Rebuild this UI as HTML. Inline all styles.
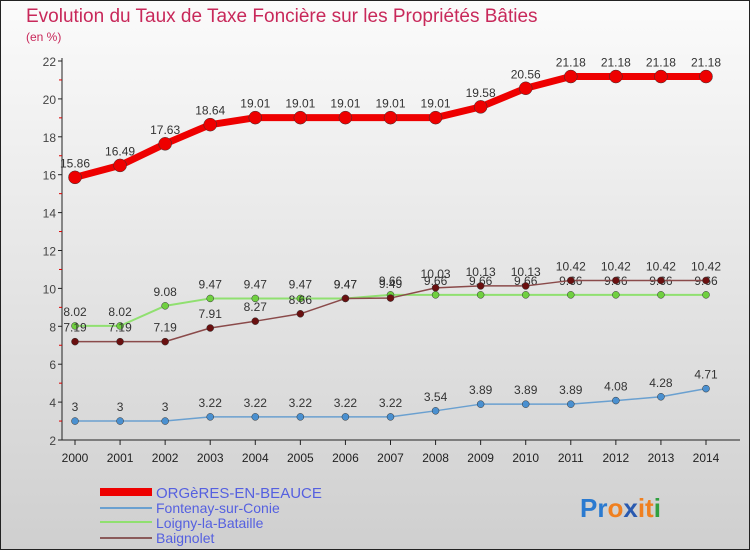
<!DOCTYPE html>
<html><head><meta charset="utf-8"><style>
body{margin:0;width:750px;height:550px;overflow:hidden;font-family:"Liberation Sans",sans-serif}
</style></head><body>
<svg width="750" height="550" xmlns="http://www.w3.org/2000/svg">
<defs><linearGradient id="bg" x1="0" y1="0" x2="0" y2="1"><stop offset="0" stop-color="#fbfbfb"/><stop offset="1" stop-color="#cfcfcf"/></linearGradient></defs>
<rect x="0.5" y="0.5" width="749" height="549" fill="url(#bg)" stroke="#222"/>
<text x="26" y="22" font-size="19" fill="#c8285a">Evolution du Taux de Taxe Foncière sur les Propriétés Bâties</text>
<text x="26" y="41" font-size="12" fill="#c8285a">(en %)</text>
<g id="axes"></g>
<g id="series"></g>
<g>
<rect x="100" y="488" width="52" height="8" fill="#e00"/>
<text x="156" y="498" font-size="15" fill="#5560e0">ORGèRES-EN-BEAUCE</text>
<rect x="100" y="507" width="52" height="2" fill="#6aa0d0"/>
<text x="156" y="513" font-size="14" fill="#5560e0">Fontenay-sur-Conie</text>
<rect x="100" y="521" width="52" height="2" fill="#90e070"/>
<text x="156" y="528" font-size="14" fill="#5560e0">Loigny-la-Bataille</text>
<rect x="100" y="537" width="52" height="2" fill="#8a5a5a"/>
<text x="156" y="543" font-size="14" fill="#5560e0">Baignolet</text>
</g>
<text x="580" y="517" font-size="26" font-weight="bold"><tspan fill="#2a7ad0">Pr</tspan><tspan fill="#f08020">o</tspan><tspan fill="#2a5ab0">x</tspan><tspan fill="#f08020">it</tspan><tspan fill="#30a040">i</tspan></text>
</svg>
<script>
const years=[2000,2001,2002,2003,2004,2005,2006,2007,2008,2009,2010,2011,2012,2013,2014];
const yTicks=[2,4,6,8,10,12,14,16,18,20,22];
const orgeres=[15.86,16.49,17.63,18.64,19.01,19.01,19.01,19.01,19.01,19.58,20.56,21.18,21.18,21.18,21.18];
const fontenay=[3,3,3,3.22,3.22,3.22,3.22,3.22,3.54,3.89,3.89,3.89,4.08,4.28,4.71];
const loigny=[8.02,8.02,9.08,9.47,9.47,9.47,9.47,9.66,9.66,9.66,9.66,9.66,9.66,9.66,9.66];
const baignolet=[7.19,7.19,7.19,7.91,8.27,8.66,9.47,9.49,10.03,10.13,10.13,10.42,10.42,10.42,10.42];
const NS="http://www.w3.org/2000/svg";
const X=i=>75+i*(631/14);
const Y=v=>440-(v-2)*(379/20);
function mk(t,a,p){const e=document.createElementNS(NS,t);for(const k in a)e.setAttribute(k,a[k]);p.appendChild(e);return e;}
const ax=document.getElementById('axes');
let l=mk('line',{x1:62,y1:440,x2:740,y2:440,stroke:'#222'},ax);


l=mk('line',{x1:62,y1:58,x2:62,y2:440,stroke:'#222'},ax);


yTicks.forEach(v=>{
 const t=mk('text',{x:56,y:Y(v)+5,'font-size':12,fill:'#444','text-anchor':'end'},ax);t.textContent=v;
 
 
 mk('line',{x1:58,y1:Y(v),x2:62,y2:Y(v),stroke:'#222'},ax);
 if(v<22)mk('line',{x1:59,y1:Y(v+1),x2:62,y2:Y(v+1),stroke:'#d00'},ax);
});
years.forEach((yr,i)=>{
 const t=mk('text',{x:X(i),y:462,'font-size':12,fill:'#222','text-anchor':'middle'},ax);t.textContent=yr;
 
 
 mk('line',{x1:X(i),y1:440,x2:X(i),y2:445,stroke:'#222'},ax);
});
const sg=document.getElementById('series');
function draw(name,data,color,dot,w,r,fs){
 const g=mk('g',{},sg);
 
 
 const p=mk('polyline',{points:data.map((v,i)=>X(i)+','+Y(v)).join(' '),fill:'none',stroke:color,'stroke-width':w,'stroke-linejoin':'round'},g);
 
 
 data.forEach((v,i)=>{
  const c=mk('circle',{cx:X(i),cy:Y(v),r:r,fill:dot,stroke:'#333','stroke-width':0.5},g);
  
  
  const t=mk('text',{x:X(i),y:Y(v)-10,'font-size':fs,fill:'#333','text-anchor':'middle'},g);t.textContent=v;
  
  
 });
}
draw('fontenay',fontenay,'#6aa0d0','#4a90d0',1.5,3.5,12);
draw('loigny',loigny,'#90e070','#70d040',2,3.5,12);
draw('baignolet',baignolet,'#8a4a4a','#6a1010',1.5,3.5,12);
draw('orgeres',orgeres,'#e00','#e00',7,6.5,12);
</script>
</body></html>
